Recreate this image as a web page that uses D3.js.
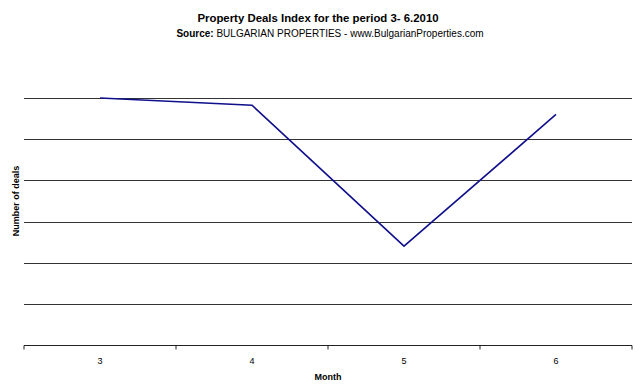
<!DOCTYPE html>
<meta charset="utf-8">
<body>
<script src="https://cdn.jsdelivr.net/npm/d3@7"></script>
<style>
    html, body {
        margin: 0;
        background: #fff;
    }
    text {
        font-family: "Liberation Sans", Arial, sans-serif;
    }
</style>
<script>
var months = ["3", "4", "5", "6"],
    deals = [120, 116.5, 48, 112],
    yTicks = [0, 20, 40, 60, 80, 100, 120];

var width = 640,
    height = 389,
    margin = {top: 98, right: 8, bottom: 44, left: 24};

var svg = d3.select("body").append("svg")
    .attr("width", width)
    .attr("height", height)
    .style("background", "#fff");

var x = d3.scaleBand()
    .domain(months)
    .range([margin.left, width - margin.right]);

var y = d3.scaleLinear()
    .domain([0, 120])
    .range([height - margin.bottom, margin.top]);

// titles
svg.append("text")
    .attr("x", 318).attr("y", 22)
    .attr("text-anchor", "middle")
    .style("font-size", "11.4px")
    .style("font-weight", "bold")
    .text("Property Deals Index for the period 3- 6.2010");

var sub = svg.append("text")
    .attr("x", 330).attr("y", 37)
    .attr("text-anchor", "middle")
    .style("font-size", "10px");
sub.append("tspan").style("font-weight", "bold").text("Source:");
sub.append("tspan").text(" BULGARIAN PROPERTIES - www.BulgarianProperties.com");

// gridlines
svg.append("g")
    .selectAll("line")
    .data(yTicks.slice(1))
    .enter().append("line")
    .attr("x1", margin.left)
    .attr("x2", width - margin.right)
    .attr("y1", function(d) { return Math.round(y(d)) + 0.5; })
    .attr("y2", function(d) { return Math.round(y(d)) + 0.5; })
    .attr("stroke", "#333")
    .attr("stroke-width", 1);

// x axis
var xAxis = svg.append("g")
    .attr("transform", "translate(0," + (Math.round(y(0)) + 0.5) + ")");
xAxis.append("line")
    .attr("x1", margin.left)
    .attr("x2", width - margin.right)
    .attr("stroke", "#222");
xAxis.selectAll(".tick")
    .data(months.concat([null]))
    .enter().append("line")
    .attr("x1", function(d) { return d === null ? width - margin.right : x(d); })
    .attr("x2", function(d) { return d === null ? width - margin.right : x(d); })
    .attr("y1", 0).attr("y2", 4)
    .attr("stroke", "#222");
xAxis.selectAll("text")
    .data(months)
    .enter().append("text")
    .attr("x", function(d) { return x(d) + x.bandwidth() / 2; })
    .attr("y", 18)
    .attr("text-anchor", "middle")
    .style("font-size", "9px")
    .text(function(d) { return d; });

svg.append("text")
    .attr("x", 328).attr("y", 380)
    .attr("text-anchor", "middle")
    .style("font-size", "9px")
    .style("font-weight", "bold")
    .text("Month");

svg.append("text")
    .attr("transform", "translate(19,201) rotate(-90)")
    .attr("text-anchor", "middle")
    .style("font-size", "9px")
    .style("font-weight", "bold")
    .text("Number of deals");

// line
var line = d3.line()
    .x(function(d, i) { return x(months[i]) + x.bandwidth() / 2; })
    .y(function(d) { return y(d); });

svg.append("path")
    .datum(deals)
    .attr("fill", "none")
    .attr("stroke", "#10108c")
    .attr("stroke-width", 1.6)
    .attr("d", line);
</script>
